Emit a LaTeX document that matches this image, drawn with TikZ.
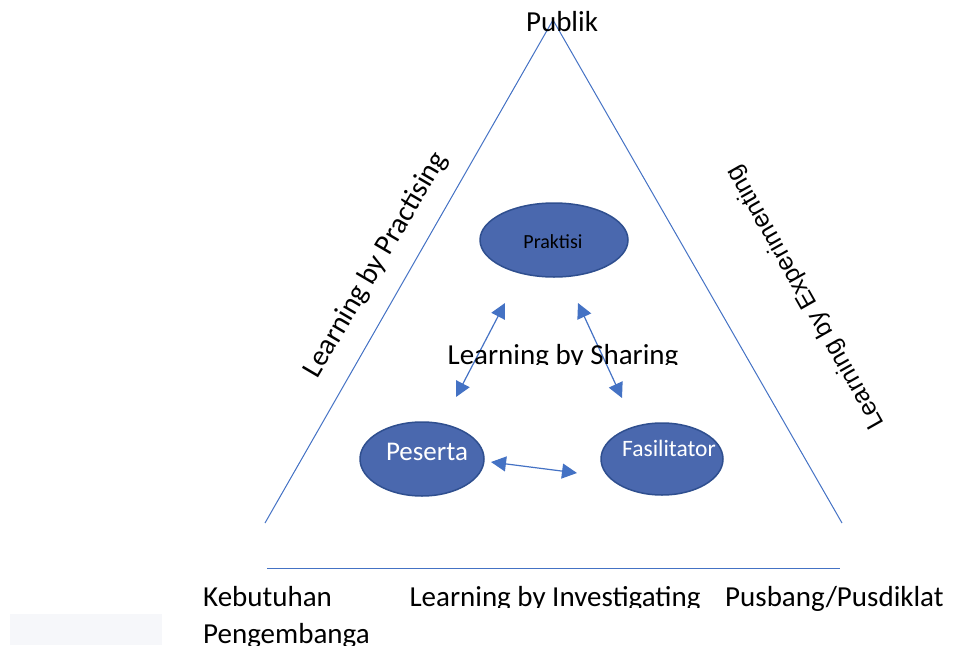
\documentclass[tikz,border=0pt]{standalone}
\usepackage{fontspec}
\setmainfont{Carlito}
\newfontfamily\arialfont{Liberation Sans}
\usetikzlibrary{arrows.meta, positioning, shapes.geometric}
\definecolor{wordblue}{RGB}{68,114,196}
\definecolor{pillfill}{RGB}{74,104,174}
\definecolor{wordedge}{RGB}{47,79,143}
\definecolor{paleblock}{RGB}{246,247,250}

\begin{document}
\begin{tikzpicture}[x=1pt, y=-1pt,
    side/.style={wordblue, line width=1pt},
    pill/.style={ellipse, draw=wordedge, fill=pillfill, line width=1.5pt, inner sep=0pt},
    swap/.style={wordblue, line width=1.2pt, {Triangle[length=15pt,width=15pt]}-{Triangle[length=15pt,width=15pt]}},
    big/.style={font=\fontsize{29}{35}\selectfont, inner sep=0pt}]

            \useasboundingbox (0,0) rectangle (958,645);
            \fill[paleblock] (10,614) rectangle (162,645);

            \coordinate (apex) at (553,20);
            \coordinate (baseL) at (265,523);
            \coordinate (baseR) at (842,523);
            \draw[side] (baseL) -- (apex) -- (baseR);
            \coordinate (lineL) at (267,568);
            \coordinate (lineR) at (840,568);
            \draw[side] (lineL) -- (lineR);

            \node[big, anchor=base] (publik) at (562,31) {Publik};
            \node[big, rotate=59.5] (practising) at (376,265) {Learning by Practising};
            \node[font=\arialfont\fontsize{25}{30}\selectfont, inner sep=0pt, rotate=119.5] (experimenting) at (806,297) {Learning by Experimenting};

            \node[pill, minimum width=148pt, minimum height=74pt] (praktisi) at (554,240) {};
            \node[font=\fontsize{20}{24}\selectfont, anchor=base, inner sep=0pt] (praktisiText) at (553,248) {Praktisi};

            \node[pill, minimum width=124pt, minimum height=74pt] (peserta) at (422,459) {};
            \node[font=\fontsize{27}{32}\selectfont, anchor=base, inner sep=0pt, white] (pesertaText) at (427,460) {Peserta};

            \node[pill, minimum width=122pt, minimum height=72pt] (fasilitator) at (662,459) {};
            \begin{scope}
                \clip (fasilitator.center) ellipse (61 and 36);
                \node[font=\fontsize{23.5}{28}\selectfont, anchor=base west, inner sep=0pt, white] (fasilitatorText) at (622,456) {Fasilitator};
            \end{scope}

            \coordinate (kiriAtas) at (505,303);
            \coordinate (kiriBawah) at (456,397);
            \draw[swap] (kiriAtas) -- (kiriBawah);
            \coordinate (kananAtas) at (578,303);
            \coordinate (kananBawah) at (622,398);
            \draw[swap] (kananAtas) -- (kananBawah);
            \coordinate (bawahKiri) at (491,462);
            \coordinate (bawahKanan) at (577,473);
            \draw[swap] (bawahKiri) -- (bawahKanan);

            \begin{scope}
                \clip (380,320) rectangle (760,364);
                \node[big, anchor=base] (sharing) at (563,364) {Learning by Sharing};
            \end{scope}

            \node[big, anchor=base west] (kebutuhan) at (203,606) {Kebutuhan};
            \node[big, anchor=base west] (pengembanga) at (203,643) {Pengembanga};
            \begin{scope}
                \clip (380,570) rectangle (720,607);
                \node[big, anchor=base] (investigating) at (555,606) {Learning by Investigating};
            \end{scope}
            \node[big, anchor=base west] (pusbang) at (725,606) {Pusbang/Pusdiklat};

        \end{tikzpicture}
\end{document}
